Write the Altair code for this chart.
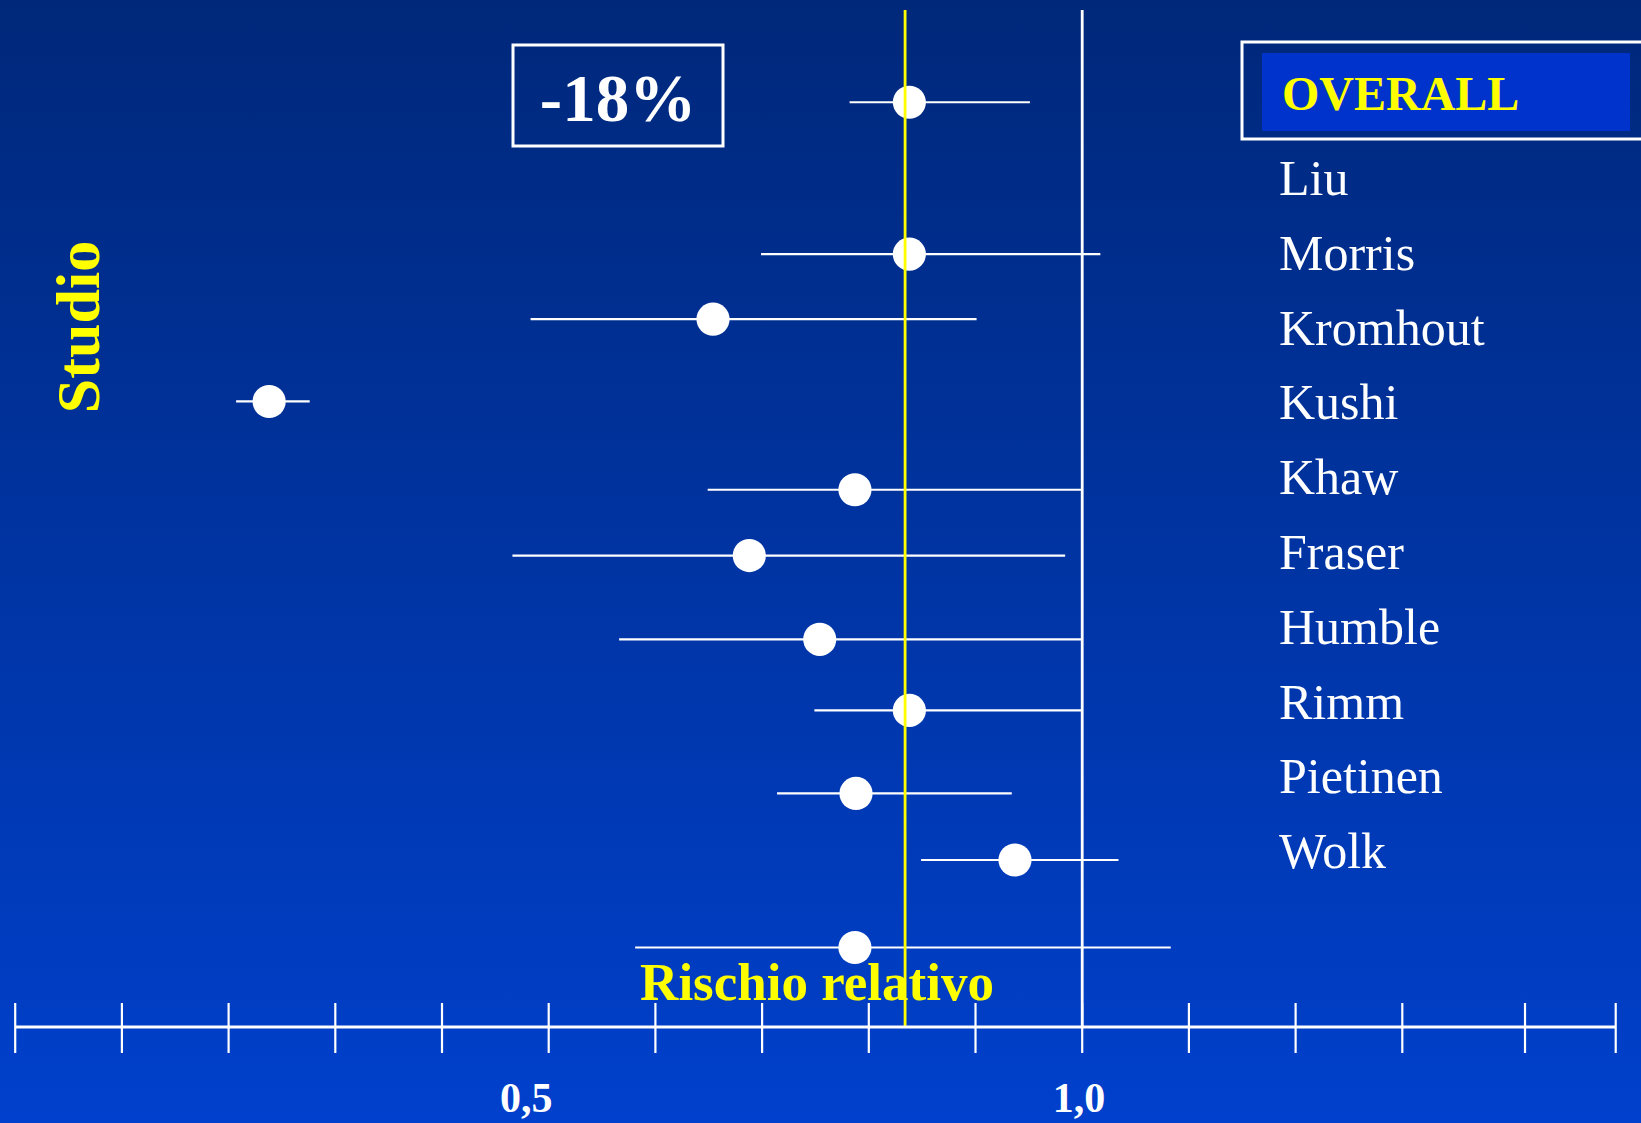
import altair as alt
import pandas as pd

W, H = 1641, 1123

# Forest plot: relative risk (point) with confidence interval, top to bottom
point_rr  = [0.838, 0.838, 0.654, 0.238, 0.787, 0.688, 0.754, 0.838, 0.788, 0.937, 0.787]
point_lo  = [0.782, 0.699, 0.483, 0.207, 0.649, 0.466, 0.566, 0.749, 0.714, 0.849, 0.581]
point_hi  = [0.951, 1.017, 0.901, 0.276, 1.000, 0.984, 1.000, 1.000, 0.934, 1.034, 1.083]
point_row = [-0.24, 1.79, 2.66, 3.76, 4.94, 5.82, 6.94, 7.89, 9.00, 9.89, 11.06]

# Study names shown at right
study_names = ["Liu", "Morris", "Kromhout", "Kushi", "Khaw", "Fraser",
               "Humble", "Rimm", "Pietinen", "Wolk"]
study_rows = [1, 2, 3, 4, 5, 6, 7, 8, 9, 10]

# Axis ticks and labels
tick_values = [0.0, 0.1, 0.2, 0.3, 0.4, 0.5, 0.6, 0.7, 0.8, 0.9, 1.0,
               1.1, 1.2, 1.3, 1.415, 1.5]
tick_label_text = ["0,5", "1,0"]
tick_label_pos = [0.479, 0.997]

# Reference lines: pooled estimate (yellow) and no effect (white)
ref_values = [0.834, 1.0]
ref_colors = ["#ffff00", "#ffffff"]

overall_text = "OVERALL"
reduction_text = "-18%"
x_title = "Rischio relativo"
y_title = "Studio"

SERIF = "Liberation Serif"
YELLOW = "#ffff00"

xs = alt.Scale(domain=[-0.01425, 1.5237], nice=False, zero=False)
ys = alt.Scale(domain=[-1.607, 13.406], nice=False, zero=False, reverse=True)

pts = pd.DataFrame({"rr": point_rr, "lo": point_lo, "hi": point_hi, "row": point_row})
labels = pd.DataFrame({"name": study_names, "row": study_rows})
ticks = pd.DataFrame({"v": tick_values})
tick_labels = pd.DataFrame({"t": tick_label_text, "v": tick_label_pos})
refs = pd.DataFrame({"v": ref_values, "c": ref_colors})
one = pd.DataFrame({"k": [0]})

bg = alt.Chart(one).mark_rect(
    color=alt.LinearGradient(
        gradient="linear",
        stops=[alt.GradientStop(color="#00287a", offset=0),
               alt.GradientStop(color="#0040cc", offset=1)],
        x1=0, x2=0, y1=0, y2=1,
    )
).encode(x=alt.value(0), x2=alt.value(W), y=alt.value(0), y2=alt.value(H))

ci = alt.Chart(pts).mark_rule(color="white", strokeWidth=2.2).encode(
    x=alt.X("lo:Q", scale=xs, axis=None),
    x2="hi:Q",
    y=alt.Y("row:Q", scale=ys, axis=None),
)

dots = alt.Chart(pts).mark_circle(color="white", opacity=1, size=1100).encode(
    x=alt.X("rr:Q", scale=xs, axis=None),
    y=alt.Y("row:Q", scale=ys, axis=None),
)

ref_lines = alt.Chart(refs).mark_rule(strokeWidth=2.8).encode(
    x=alt.X("v:Q", scale=xs, axis=None),
    y=alt.value(10),
    y2=alt.value(1027),
    color=alt.Color("c:N", scale=None),
)

axis_line = alt.Chart(ticks).mark_rule(color="white", strokeWidth=3).encode(
    x=alt.X("min(v):Q", scale=xs, axis=None),
    x2="max(v):Q",
    y=alt.value(1027),
)

tick_marks = alt.Chart(ticks).mark_rule(color="white", strokeWidth=2.2).encode(
    x=alt.X("v:Q", scale=xs, axis=None),
    y=alt.value(1003),
    y2=alt.value(1053),
)

tick_text = alt.Chart(tick_labels).mark_text(
    color="white", font=SERIF, fontSize=42, fontWeight="bold",
    align="center", baseline="alphabetic",
).encode(
    x=alt.X("v:Q", scale=xs, axis=None),
    y=alt.value(1112),
    text="t:N",
)

name_text = alt.Chart(labels).mark_text(
    color="white", font=SERIF, fontSize=50, align="left", baseline="alphabetic",
).encode(
    x=alt.value(1279),
    y=alt.Y("row:Q", scale=ys, axis=None),
    text="name:N",
)

# OVERALL box
overall_frame = alt.Chart(one).mark_rect(
    fill=None, stroke="white", strokeWidth=3
).encode(x=alt.value(1242), x2=alt.value(1660), y=alt.value(42), y2=alt.value(139))
overall_fill = alt.Chart(one).mark_rect(color="#0033cc").encode(
    x=alt.value(1262), x2=alt.value(1630), y=alt.value(53), y2=alt.value(131)
)
overall_label = alt.Chart(one).mark_text(
    text=overall_text, color=YELLOW, font=SERIF, fontSize=48, fontWeight="bold",
    align="left", baseline="alphabetic",
).encode(x=alt.value(1282), y=alt.value(110))

# -18% box
red_frame = alt.Chart(one).mark_rect(
    fill=None, stroke="white", strokeWidth=3
).encode(x=alt.value(513), x2=alt.value(723), y=alt.value(45), y2=alt.value(146))
red_label = alt.Chart(one).mark_text(
    text=reduction_text, color="white", font=SERIF, fontSize=67, fontWeight="bold",
    align="center", baseline="alphabetic",
).encode(x=alt.value(618), y=alt.value(121))

x_title_mark = alt.Chart(one).mark_text(
    text=x_title, color=YELLOW, font=SERIF, fontSize=53, fontWeight="bold",
    align="center", baseline="alphabetic",
).encode(x=alt.value(817), y=alt.value(1000))

y_title_mark = alt.Chart(one).mark_text(
    text=y_title, color=YELLOW, font=SERIF, fontSize=62, fontWeight="bold",
    align="center", baseline="middle", angle=270,
).encode(x=alt.value(80), y=alt.value(327))

chart = alt.layer(
    bg, ci, dots, ref_lines, axis_line, tick_marks, tick_text, name_text,
    overall_frame, overall_fill, overall_label, red_frame, red_label,
    x_title_mark, y_title_mark,
).properties(
    width=W, height=H, padding=0,
    autosize=alt.AutoSizeParams(type="none"),
).configure_view(stroke=None)

chart.save("out.html", embed_options={"renderer": "svg", "actions": False})
